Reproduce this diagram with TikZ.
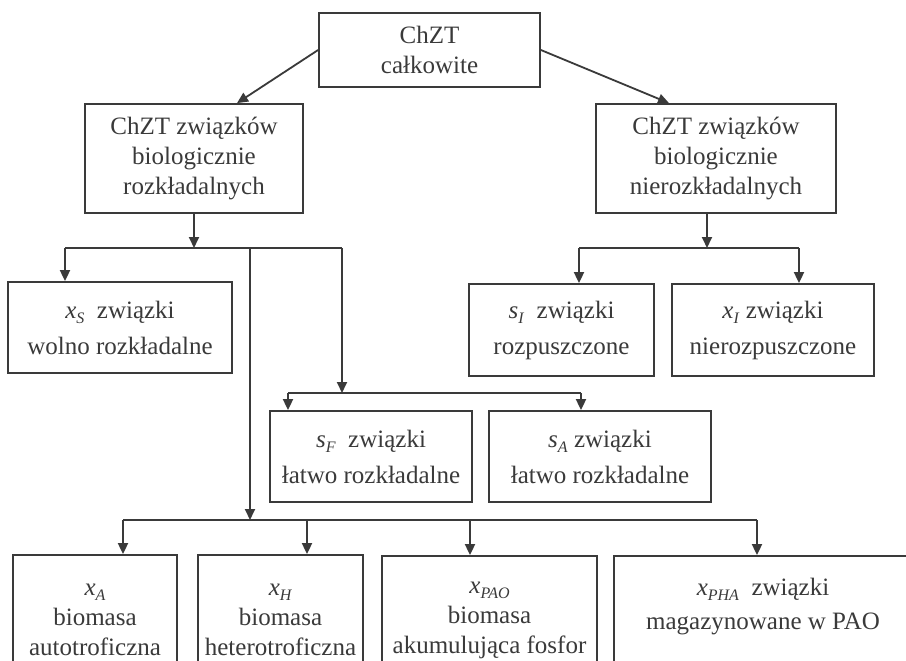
\documentclass[tikz,border=0pt]{standalone}
\usepackage{fontspec}
\setmainfont{Liberation Serif}
\usetikzlibrary{arrows.meta}
\definecolor{ink}{HTML}{3A3A3A}
\newcommand{\vsym}[2]{\textit{#1}\raisebox{-0.45ex}{\fontsize{8}{8}\selectfont\textit{#2}}}
\begin{document}
\begin{tikzpicture}[x=0.5pt,y=-0.5pt,
  box/.style={draw=ink, line width=0.9pt, rectangle, inner sep=0pt, align=center, text=ink,
              font=\fontsize{12.5}{15}\selectfont},
  conn/.style={draw=ink, line width=0.9pt},
  arr/.style={conn, -{Triangle[length=5.5pt,width=5pt]}}]
\useasboundingbox (0,0) rectangle (906,660);
\clip (0,0) rectangle (906,660);
\fill[white] (0,0) rectangle (906,660);

% boxes
\node[box, minimum width=110.5pt, minimum height=37pt] (top) at (429.5,50) {ChZT\\całkowite};
\node[box, minimum width=109pt, minimum height=54.5pt] (bio) at (194,158.5) {ChZT związków\\biologicznie\\rozkładalnych};
\node[box, minimum width=120pt, minimum height=54.5pt] (nbio) at (716,158.5) {ChZT związków\\biologicznie\\nierozkładalnych};
\node[box, minimum width=112pt, minimum height=45.5pt] (xS) at (120,327.5) {\vsym{x}{S}\enspace związki\\[3pt]wolno rozkładalne};
\node[box, minimum width=92.5pt, minimum height=46pt] (sI) at (561.5,330) {\vsym{s}{I}\enspace związki\\[3pt]rozpuszczone};
\node[box, minimum width=101pt, minimum height=46pt] (xI) at (773,330) {\vsym{x}{I} związki\\[3pt]nierozpuszczone};
\node[box, minimum width=101pt, minimum height=45.5pt] (sF) at (371,456.5) {\vsym{s}{F}\enspace związki\\[3pt]łatwo rozkładalne};
\node[box, minimum width=111pt, minimum height=45.5pt] (sA) at (600,456.5) {\vsym{s}{A} związki\\[3pt]łatwo rozkładalne};
\node[box, minimum width=82pt, minimum height=65pt] (xA) at (95,620) {\vsym{x}{A}\\biomasa\\autotroficzna};
\node[box, minimum width=82.5pt, minimum height=65pt] (xH) at (280.5,620) {\vsym{x}{H}\\biomasa\\heterotroficzna};
\node[box, minimum width=107.5pt, minimum height=64.5pt] (xPAO) at (489.5,620.5) {\vsym{x}{PAO}\\biomasa\\akumulująca fosfor};
\node[box, minimum width=149pt, minimum height=62.5pt] (xPHA) at (763,618.5) {\vsym{x}{PHA}\enspace związki\\[2pt]magazynowane w PAO\\\mbox{}};

% junction points
\coordinate (b1) at (194,248);
\coordinate (b1l) at (65,248);
\coordinate (b1m) at (250,248);
\coordinate (b1r) at (342,248);
\coordinate (b2) at (342,393);
\coordinate (b2l) at (288,393);
\coordinate (b2r) at (581,393);
\coordinate (b3) at (250,520);
\coordinate (b3l) at (123,520);
\coordinate (b3a) at (307,520);
\coordinate (b3b) at (470,520);
\coordinate (b3r) at (757,520);
\coordinate (n1) at (707,248);
\coordinate (n1l) at (579,248);
\coordinate (n1r) at (799,248);

% connectors
\draw[arr] (top.west) -- ([xshift=21.5pt]bio.north);
\draw[arr] (top.east) -- ([xshift=-23.5pt]nbio.north);

\draw[arr] (bio.south) -- (b1);
\draw[conn] (b1l) -- (b1r);
\draw[arr] (b1l) -- (b1l |- xS.north);
\draw[arr] (b1r) -- (b2);
\draw[conn] (b2l) -- (b2r);
\draw[arr] (b2l) -- (b2l |- sF.north);
\draw[arr] (b2r) -- (b2r |- sA.north);
\draw[arr] (b1m) -- (b3);
\draw[conn] (b3l) -- (b3r);
\draw[arr] (b3l) -- (b3l |- xA.north);
\draw[arr] (b3a) -- (b3a |- xH.north);
\draw[arr] (b3b) -- (b3b |- xPAO.north);
\draw[arr] (b3r) -- (b3r |- xPHA.north);

\draw[arr] (nbio.south -| n1) -- (n1);
\draw[conn] (n1l) -- (n1r);
\draw[arr] (n1l) -- (n1l |- sI.north);
\draw[arr] (n1r) -- (n1r |- xI.north);
\end{tikzpicture}
\end{document}
